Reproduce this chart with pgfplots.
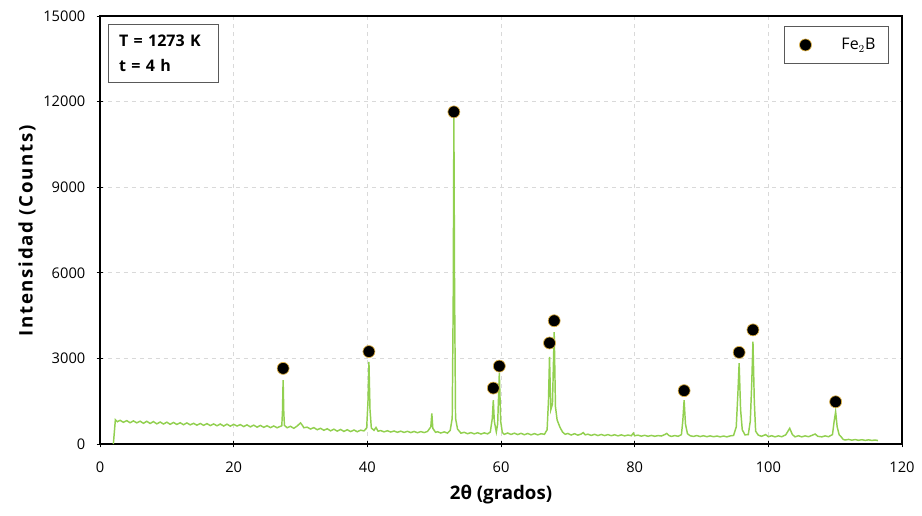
\documentclass[border=0pt]{standalone}
\usepackage{fontspec}
\setmainfont{Open Sans}
\usepackage{pgfplots}
\pgfplotsset{compat=1.18}
\usetikzlibrary{calc}
\definecolor{xrdgreen}{RGB}{146,208,80}
\definecolor{markedge}{RGB}{225,180,70}

\pgfplotstableread{
x y
2.0 0
2.3 850
2.6 780
3.0 830
3.5 760
4.0 820
4.5 745
5.0 810
5.5 740
6.0 800
6.5 725
7.0 795
7.5 720
8.0 785
8.5 705
9.0 770
9.5 700
10.0 765
10.5 690
11.0 755
11.5 685
12.0 745
12.5 675
13.0 740
13.5 670
14.0 725
14.5 660
15.0 720
15.5 655
16.0 715
16.5 645
17.0 705
17.5 640
18.0 700
18.5 630
19.0 695
19.5 625
20.0 690
20.5 630
21.0 680
21.5 610
22.0 670
22.5 600
23.0 660
23.5 590
24.0 650
24.5 585
25.0 640
25.5 575
26.0 630
26.5 570
27.0 620
27.2 640
27.3 1100
27.4 2240
27.5 1100
27.6 650
28.0 570
28.5 620
29.0 550
29.5 630
30.0 740
30.3 650
30.5 570
31.0 590
31.5 525
32.0 575
32.5 500
33.0 550
33.5 480
34.0 535
34.5 460
35.0 520
35.5 450
36.0 510
36.5 440
37.0 500
37.5 435
38.0 490
38.5 430
39.0 485
39.5 460
39.9 560
40.1 1500
40.24 2880
40.4 1200
40.6 560
41.0 480
41.3 580
41.6 450
42.0 470
42.5 425
43.0 465
43.5 420
44.0 455
44.5 410
45.0 450
45.5 405
46.0 445
46.5 400
47.0 440
47.5 395
48.0 435
48.5 400
49.0 440
49.5 600
49.65 1070
49.8 550
50.2 410
50.5 430
51.0 385
51.5 425
52.0 380
52.4 480
52.7 900
52.85 5000
52.95 11420
53.05 5500
53.2 900
53.5 520
53.8 440
54.0 380
54.5 410
55.0 360
55.5 400
56.0 355
56.5 395
57.0 350
57.5 390
58.0 355
58.4 420
58.7 900
58.85 1540
59.0 800
59.3 420
59.5 700
59.75 2490
59.95 800
60.2 400
60.5 340
61.0 385
61.5 335
62.0 380
62.5 330
63.0 375
63.5 325
64.0 370
64.5 320
65.0 365
65.5 320
66.0 360
66.5 340
66.9 500
67.1 1500
67.26 3050
67.45 1200
67.7 1400
67.96 3920
68.15 1300
68.4 840
68.8 600
69.2 420
69.6 340
70.0 370
70.5 315
71.0 360
71.5 310
72.0 350
72.3 400
72.6 320
73.0 345
73.5 300
74.0 340
74.5 295
75.0 335
75.5 295
76.0 330
76.5 290
77.0 325
77.5 285
78.0 320
78.5 285
79.0 315
79.5 290
79.8 380
80.0 290
80.5 310
81.0 275
81.5 305
82.0 270
82.5 300
83.0 270
83.5 295
84.0 280
84.5 330
84.8 370
85.1 300
85.5 265
86.0 295
86.5 270
87.0 330
87.2 800
87.4 1540
87.6 700
87.9 360
88.3 290
88.8 265
89.3 295
89.8 260
90.3 290
90.8 255
91.3 285
91.8 255
92.3 280
92.8 250
93.3 280
93.8 250
94.3 285
94.8 300
95.2 600
95.45 1800
95.63 2830
95.85 1200
96.1 500
96.5 320
97.0 330
97.3 800
97.5 2000
97.7 3590
97.9 1500
98.1 450
98.5 310
99.0 270
99.6 330
100.0 255
100.5 290
101.0 250
101.5 285
102.0 255
102.6 320
103.2 550
103.6 330
104.0 250
104.5 290
105.0 250
105.5 285
106.0 255
106.5 300
107.0 350
107.4 270
108.0 250
108.5 285
109.0 255
109.6 330
109.85 800
110.07 1130
110.3 600
110.6 320
110.9 250
111.2 160
111.5 140
112.0 160
112.5 135
113.0 155
113.5 130
114.0 150
114.5 128
115.0 145
115.5 125
116.0 140
116.4 120
}\xrd

\pgfplotstableread{
x y
27.4 2650
40.24 3240
52.95 11640
58.85 1960
59.75 2730
67.26 3540
67.96 4320
87.4 1870
95.63 3210
97.7 4000
110.07 1480
}\peaks

\begin{document}
\begin{tikzpicture}
\begin{axis}[
    scale only axis,
    width=601.5pt, height=321pt,
    xmin=0, xmax=120, ymin=0, ymax=15000,
    xtick={0,20,...,120},
    ytick={0,3000,...,15000},
    scaled y ticks=false,
    /pgf/number format/assume math mode=true,
    /pgf/number format/set thousands separator={},
    tick label style={font=\fontsize{11}{13}\selectfont, black},
    yticklabel style={xshift=-5pt},
    xticklabel style={yshift=-7pt},
    xtick pos=bottom, ytick pos=left,
    tick align=center,
    major tick length=5pt,
    tick style={black, line width=0.7pt},
    axis line style={black, line width=0.8pt},
    grid=major,
    major grid style={dashed, gray!30, line width=0.6pt},
    xlabel={\textbf{2θ (grados)}},
    ylabel={\textbf{\addfontfeature{LetterSpace=9}Intensidad (Counts)}},
    label style={font=\fontsize{14}{16}\selectfont},
    xlabel style={at={(axis description cs:0.5,-0.119)}, anchor=center},
    ylabel style={at={(axis description cs:-0.091,0.5)}, anchor=center},
    legend style={at={(0.984,0.977)}, anchor=north east, draw=gray!70!black,
        line width=0.6pt, font=\fontsize{12}{14}\selectfont,
        inner xsep=8pt, inner ysep=7pt, legend cell align=left},
    legend image code/.code={
        \path[draw=none] (0,0) -- (33pt,0);
        \path[#1, draw=none] plot[only marks] coordinates {(8pt,0)};},
]
\addplot[xrdgreen, line width=1.1pt, forget plot] table[x=x, y=y] {\xrd};
\addplot[only marks, mark=*, mark size=4.5pt,
    mark options={fill=black, draw=markedge, line width=0.5pt}]
    table[x=x, y=y] {\peaks};
\addlegendentry{Fe$_2$B}
\coordinate (sw) at (rel axis cs:0,0);
\coordinate (ne) at (rel axis cs:1,1);
\node[draw=gray!70!black, line width=0.6pt, anchor=north west,
    minimum height=43.5pt, align=left,
    inner xsep=8pt, text width=66.5pt,
    font=\fontsize{12}{18.5}\selectfont\bfseries]
    at (axis description cs:0.01,0.981) {T = 1273 K\\t = 4 h};
\end{axis}
\pgfresetboundingbox
\path ($(sw)+(-75pt,-53.25pt)$) rectangle ($(ne)+(15pt,12pt)$);
\end{tikzpicture}
\end{document}
